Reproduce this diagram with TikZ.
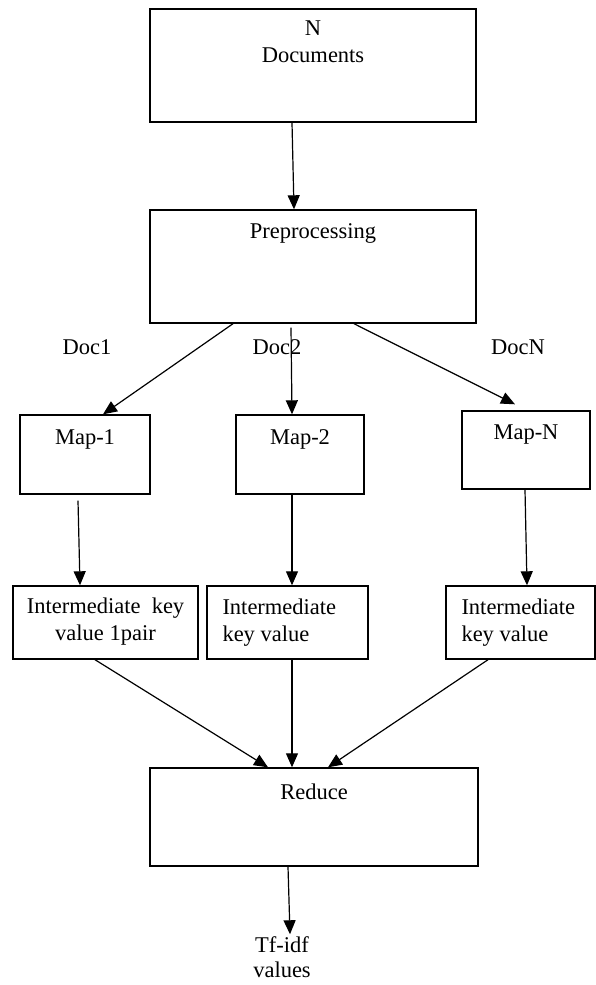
\documentclass[tikz,border=0pt]{standalone}
\usepackage{fontspec}
\setmainfont{Liberation Serif}
\usetikzlibrary{arrows.meta}

\tikzset{
  box/.style={draw, line width=1.4pt, rectangle, inner sep=0pt},
  flow/.style={line width=1.2pt, -{Triangle[length=14pt,width=12pt]}},
  every label/.style={inner sep=0pt}
}

\begin{document}
\begin{tikzpicture}[x=1pt, y=-1pt, font=\fontsize{22.5}{27}\selectfont]
  \useasboundingbox (0,0) rectangle (596,985);
  % top boxes
  \node[box, minimum width=326pt, minimum height=113pt, label={[below=12pt,align=center]north:{N\\Documents}}] (docs) at (313,65.5) {};
  \node[box, minimum width=326pt, minimum height=113pt, label={[below=14pt]north:Preprocessing}] (prep) at (313,266.5) {};
  \node (doca) at (87,347) {Doc1};
  \node (docb) at (277,347) {Doc2};
  \node (docn) at (518,347) {DocN};
  % mappers
  \node[box, minimum width=130pt, minimum height=79pt, label={[below=15pt]north:Map-1}] (map1) at (85,454.5) {};
  \node[box, minimum width=128pt, minimum height=79pt, label={[below=15pt]north:Map-2}] (map2) at (300,454.5) {};
  \node[box, minimum width=128pt, minimum height=78pt, label={[below=14pt]north:Map-N}] (mapn) at (526,450) {};
  \node[box, minimum width=185pt, minimum height=73pt, label={[below=12pt,align=center]north:{Intermediate~ key\\value 1pair}}] (int1) at (105.5,622.5) {};
  \node[box, minimum width=161pt, minimum height=73pt, label={[anchor=north west,xshift=16pt,yshift=-13pt,align=left]north west:{Intermediate\\key value}}] (int2) at (287.5,622.5) {};
  \node[box, minimum width=149pt, minimum height=73pt, label={[anchor=north west,xshift=16pt,yshift=-13pt,align=left]north west:{Intermediate\\key value}}] (int3) at (520.5,622.5) {};
  % reduce
  \node[box, minimum width=328pt, minimum height=98pt, label={[below=16pt]north:Reduce}] (reduce) at (314,817) {};
  \node[align=center, inner sep=0pt, font=\fontsize{22.5}{25}\selectfont] (tfidf) at (282,957) {Tf-idf\\values};

  \draw[flow] ([xshift=-21pt]docs.south) -- ([xshift=-19pt]prep.north);
  \draw[flow] ([xshift=-80pt]prep.south) -- ([xshift=18pt]map1.north);
  \draw[flow] ([xshift=-22pt,yshift=-4pt]prep.south) -- ([xshift=-8pt]map2.north);
  \draw[flow] ([xshift=41pt]prep.south) -- ([xshift=-11pt,yshift=6pt]mapn.north);
  \draw[flow] ([xshift=-7pt,yshift=-6pt]map1.south) -- ([xshift=-25.5pt]int1.north);
  \draw[flow] ([xshift=-8pt]map2.south) -- ([xshift=4.5pt]int2.north);
  \draw[flow] ([xshift=-1pt]mapn.south) -- ([xshift=6.5pt]int3.north);
  \draw[flow] ([xshift=-10.5pt]int1.south) -- ([xshift=-46pt]reduce.north);
  \draw[flow] ([xshift=4.5pt]int2.south) -- ([xshift=-22pt]reduce.north);
  \draw[flow] ([xshift=-32.5pt]int3.south) -- ([xshift=14pt]reduce.north);
  \draw[flow] ([xshift=-26pt]reduce.south) -- ([xshift=8pt,yshift=2pt]tfidf.north);
\end{tikzpicture}
\end{document}
